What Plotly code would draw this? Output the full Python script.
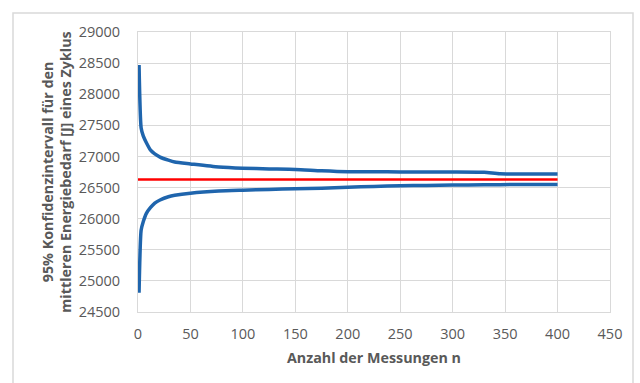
import plotly.graph_objects as go

n_values = [1, 3, 5, 8, 12, 16, 21, 29, 35, 50, 77, 100, 125, 150, 175, 200,
            225, 250, 275, 300, 330, 345, 370, 400]
upper = [28470, 27457, 27330, 27220, 27100, 27040, 26990, 26940, 26910, 26880,
         26830, 26810, 26800, 26792, 26770, 26755, 26755, 26750, 26750, 26750,
         26745, 26722, 26718, 26717]
lower = [24810, 25817, 25950, 26085, 26180, 26250, 26300, 26352, 26375, 26410,
         26445, 26458, 26470, 26482, 26490, 26505, 26518, 26528, 26535, 26540,
         26545, 26547, 26548, 26548]
mean_n = [0, 400]
mean_value = [26630, 26630]

x_ticks = [0, 50, 100, 150, 200, 250, 300, 350, 400, 450]
y_ticks = [24500, 25000, 25500, 26000, 26500, 27000, 27500, 28000, 28500, 29000]

blue = "#1f65ad"
red = "#ff0000"
grid = "#d9d9d9"
txt = "#595959"
font = "Open Sans, Lato, sans-serif"

fig = go.Figure()
fig.add_trace(go.Scatter(x=n_values, y=upper, mode="lines",
                         line=dict(color=blue, width=3.5, shape="spline", smoothing=0.6)))
fig.add_trace(go.Scatter(x=n_values, y=lower, mode="lines",
                         line=dict(color=blue, width=3.5, shape="spline", smoothing=0.6)))
fig.add_trace(go.Scatter(x=mean_n, y=mean_value, mode="lines",
                         line=dict(color=red, width=2.5)))

W, H = 640, 383
ml, mr, mt, mb = 138, 30, 32, 71
pw, ph = W - ml - mr, H - mt - mb

def px_x(p):
    return (p - ml) / pw

def px_y(p):
    return 1 - (p - mt) / ph

fig.add_shape(type="rect", xref="paper", yref="paper",
              x0=px_x(13), x1=px_x(633), y0=px_y(395), y1=px_y(13),
              line=dict(color=grid, width=1.5), fillcolor="rgba(0,0,0,0)", layer="below")

fig.update_layout(
    width=W, height=H,
    margin=dict(l=ml, r=mr, t=mt, b=mb),
    paper_bgcolor="white", plot_bgcolor="white",
    showlegend=False,
    font=dict(family=font, size=14, color=txt),
)
fig.update_xaxes(
    range=[0, 450], tickvals=x_ticks, ticktext=[str(v) for v in x_ticks],
    showgrid=True, gridcolor=grid, gridwidth=1, zeroline=False,
    showline=True, linecolor=grid, linewidth=1, mirror=True,
    ticks="", ticklabelstandoff=9, automargin=False,
    tickfont=dict(family=font, size=14.5, color=txt),
    title=dict(text="<b>Anzahl der Messungen n</b>", standoff=10,
               font=dict(family=font, size=14.3, color=txt)),
)
fig.update_yaxes(
    range=[24500, 29000], tickvals=y_ticks, ticktext=[str(v) for v in y_ticks],
    showgrid=True, gridcolor=grid, gridwidth=1, zeroline=False,
    showline=True, linecolor=grid, linewidth=1, mirror=True,
    ticks="", ticklabelstandoff=14, automargin=False,
    tickfont=dict(family=font, size=14.5, color=txt),
    title=dict(text="<b>95% Konfidenzintervall für den<br>mittleren Energiebedarf [J] eines Zyklus</b>",
               standoff=3, font=dict(family=font, size=14.3, color=txt)),
)

fig.write_html("out.html", post_script="document.body.style.margin='0';",
               config={"displayModeBar": False})
